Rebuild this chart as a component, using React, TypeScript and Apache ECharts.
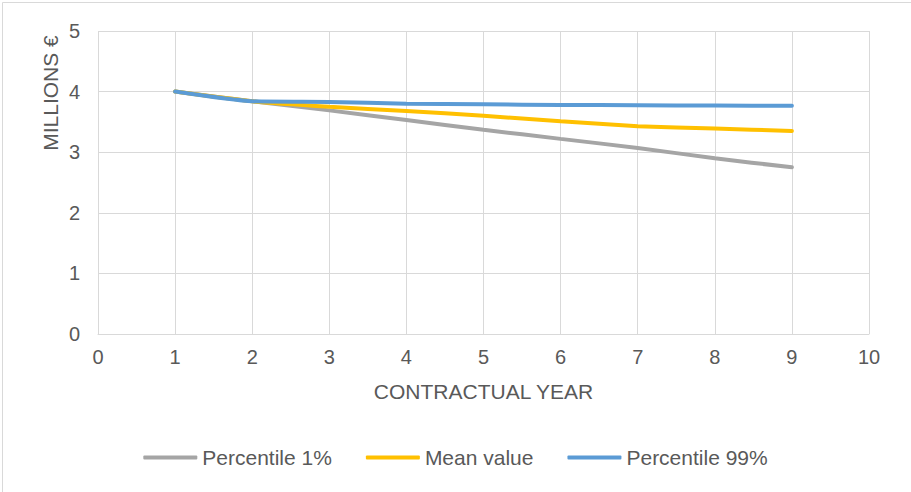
import React, { useEffect, useRef } from "react";
import * as echarts from "echarts";

const years = [1, 2, 3, 4, 5, 6, 7, 8, 9];
const percentile1 = [4.0, 3.84, 3.69, 3.53, 3.37, 3.22, 3.07, 2.9, 2.75];
const meanValue = [4.0, 3.84, 3.75, 3.68, 3.6, 3.51, 3.43, 3.39, 3.35];
const percentile99 = [4.0, 3.84, 3.83, 3.8, 3.79, 3.78, 3.775, 3.77, 3.765];

const seriesNames = ["Percentile 1%", "Mean value", "Percentile 99%"];
const seriesColors = ["#A5A5A5", "#FFC000", "#5B9BD5"];

const FONT = "'Liberation Sans', Arial, sans-serif";
const TEXT = "#595959";
const GRID = "#D9D9D9";

export default function App() {
  const ref = useRef<HTMLDivElement>(null);

  useEffect(() => {
    document.body.style.margin = "0";
    if (!ref.current) return;
    const chart = echarts.init(ref.current, undefined, { renderer: "svg" });
    const data = [percentile1, meanValue, percentile99];
    chart.setOption({
      animation: false,
      backgroundColor: "#fff",
      textStyle: { fontFamily: FONT },
      grid: { left: 98, right: 42, top: 31, bottom: 158 },
      xAxis: {
        type: "value",
        min: 0,
        max: 10,
        interval: 1,
        name: "CONTRACTUAL YEAR",
        nameLocation: "middle",
        nameGap: 47,
        nameTextStyle: { color: TEXT, fontSize: 21, fontFamily: FONT },
        axisLine: { show: true, lineStyle: { color: GRID, width: 1 } },
        axisTick: { show: false },
        axisLabel: { color: TEXT, fontSize: 20, margin: 13, fontFamily: FONT },
        splitLine: { show: true, lineStyle: { color: GRID, width: 1 } },
      },
      yAxis: {
        type: "value",
        min: 0,
        max: 5,
        interval: 1,
        axisLine: { show: false },
        axisTick: { show: false },
        axisLabel: { color: TEXT, fontSize: 20, margin: 18, fontFamily: FONT },
        splitLine: { show: true, lineStyle: { color: GRID, width: 1 } },
      },
      legend: {
        bottom: 19,
        left: "center",
        icon: "roundRect",
        itemWidth: 54,
        itemHeight: 4,
        itemGap: 34,
        textStyle: { color: TEXT, fontSize: 21, fontFamily: FONT },
        data: seriesNames,
      },
      graphic: [
        {
          type: "rect",
          left: 0,
          top: 0,
          shape: { width: 910, height: 491 },
          style: { fill: "none", stroke: GRID, lineWidth: 1 },
          silent: true,
        },
        {
          type: "text",
          x: 50,
          y: 93,
          rotation: Math.PI / 2,
          style: {
            text: "MILLIONS €",
            fill: TEXT,
            font: `21px ${FONT}`,
            align: "center",
            verticalAlign: "middle",
          },
        },
      ],
      series: seriesNames.map((name, i) => ({
        name,
        type: "line",
        smooth: 0.2,
        symbol: "none",
        data: years.map((y, j) => [y, data[i][j]]),
        lineStyle: { color: seriesColors[i], width: 4, cap: "round" },
        itemStyle: { color: seriesColors[i] },
      })),
    });
    return () => chart.dispose();
  }, []);

  return <div ref={ref} style={{ width: 911, height: 492 }} />;
}
